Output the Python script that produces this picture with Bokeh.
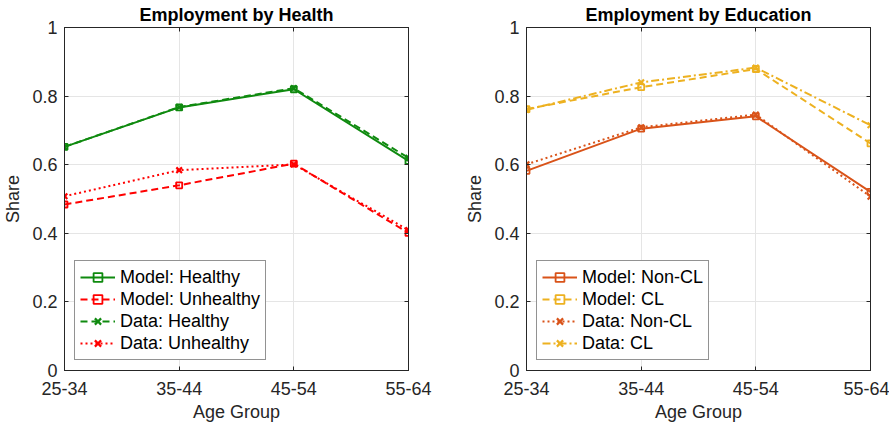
from bokeh.plotting import figure
from bokeh.models import FixedTicker, LinearAxis, Legend, LegendItem
from bokeh.layouts import row
from bokeh.embed import file_html
from bokeh.resources import INLINE

# data
age_groups = ["25-34", "35-44", "45-54", "55-64"]
x_pos = [1, 2, 3, 4]

model_healthy = [0.652, 0.767, 0.820, 0.611]
model_unhealthy = [0.484, 0.540, 0.603, 0.401]
data_healthy = [0.652, 0.768, 0.823, 0.620]
data_unhealthy = [0.508, 0.584, 0.601, 0.409]

model_noncl = [0.582, 0.705, 0.741, 0.521]
model_cl = [0.762, 0.826, 0.879, 0.662]
data_noncl = [0.601, 0.709, 0.746, 0.507]
data_cl = [0.760, 0.840, 0.883, 0.715]

y_ticks = [0, 0.2, 0.4, 0.6, 0.8, 1]
y_labels = ["0", "0.2", "0.4", "0.6", "0.8", "1"]

FONT = "Liberation Sans"
INK = "#262626"
GREEN = "#0f8a0f"
RED = "#ff0000"
ORANGE = "#d95319"
YELLOW = "#edb120"


def make_panel(title, left_border, right_border):
    p = figure(frame_width=344, frame_height=343, x_range=(1, 4), y_range=(0, 1),
               output_backend="svg", toolbar_location=None,
               min_border_left=left_border, min_border_right=right_border,
               min_border_top=0, min_border_bottom=0)
    p.title.text = title
    p.title.align = "center"
    p.title.text_font = FONT
    p.title.text_font_size = "18px"
    p.title.text_font_style = "bold"
    p.title.text_color = "black"
    p.title.standoff = 5
    p.title.offset = 0

    p.xaxis.ticker = FixedTicker(ticks=x_pos)
    p.xaxis.major_label_overrides = {x: lab for x, lab in zip(x_pos, age_groups)}
    p.yaxis.ticker = FixedTicker(ticks=y_ticks)
    p.yaxis.major_label_overrides = {t: lab for t, lab in zip(y_ticks, y_labels)}
    p.xaxis.axis_label = "Age Group"
    p.yaxis.axis_label = "Share"
    for ax in p.xaxis + p.yaxis:
        ax.axis_label_text_font = FONT
        ax.axis_label_text_font_size = "18px"
        ax.axis_label_text_font_style = "normal"
        ax.axis_label_text_color = INK
        ax.major_label_text_font = FONT
        ax.major_label_text_font_size = "18px"
        ax.major_label_text_color = INK
        ax.major_tick_in = 4
        ax.major_tick_out = 0
        ax.minor_tick_line_color = None
        ax.axis_line_color = INK
        ax.major_tick_line_color = INK
    p.xaxis.major_label_standoff = 11
    p.xaxis.axis_label_standoff = 4
    p.yaxis.major_label_standoff = 7
    p.yaxis.axis_label_standoff = 6

    # ticks on top and right like a boxed axes
    for side, ticks in [("above", x_pos), ("right", y_ticks)]:
        ax = LinearAxis(ticker=FixedTicker(ticks=ticks),
                        major_label_overrides={t: "" for t in ticks},
                        major_label_text_font_size="1px", major_label_standoff=0,
                        major_tick_in=4, major_tick_out=0, minor_tick_line_color=None,
                        axis_line_color=INK, major_tick_line_color=INK)
        p.add_layout(ax, side)

    p.grid.grid_line_color = "#e5e5e5"
    p.xgrid.ticker = FixedTicker(ticks=x_pos)
    p.ygrid.ticker = FixedTicker(ticks=y_ticks)
    p.outline_line_color = INK
    p.outline_line_alpha = 1
    return p


def add_series(p, ys, color, dash, marker, label, items, lw=2):
    ln = p.line(x_pos, ys, line_color=color, line_width=lw, line_dash=dash)
    if marker == "square":
        mk = p.scatter(x_pos, ys, marker="square", size=6, line_color=color,
                       line_width=1.8, fill_color=None)
    else:
        mk = p.scatter(x_pos, ys, marker="x", size=8, line_color=color, line_width=2.2)
    items.append(LegendItem(label=label, renderers=[ln, mk]))


def style_legend(p, items):
    leg = Legend(items=items, location=(10, 10), label_text_font=FONT,
                 label_text_font_size="18px", label_text_color="black",
                 glyph_width=35, glyph_height=22,
                 label_height=22, label_standoff=5, spacing=0, padding=5, margin=0,
                 border_line_color=INK, border_line_width=1,
                 background_fill_color="white", background_fill_alpha=1)
    p.add_layout(leg, "center")


# left panel
p1 = make_panel("Employment by Health", 59, 40)
items1 = []
add_series(p1, model_healthy, GREEN, "solid", "square", "Model: Healthy", items1)
add_series(p1, model_unhealthy, RED, "7 4", "square", "Model: Unhealthy", items1)
add_series(p1, data_healthy, GREEN, "7 4", "x", "Data: Healthy", items1)
add_series(p1, data_unhealthy, RED, "2 3", "x", "Data: Unhealthy", items1)
style_legend(p1, items1)

# right panel
p2 = make_panel("Employment by Education", 78, 19)
items2 = []
add_series(p2, model_noncl, ORANGE, "solid", "square", "Model: Non-CL", items2)
add_series(p2, model_cl, YELLOW, "7 4", "square", "Model: CL", items2)
add_series(p2, data_noncl, ORANGE, "2 3", "x", "Data: Non-CL", items2)
add_series(p2, data_cl, YELLOW, "8 3 2 3", "x", "Data: CL", items2)
style_legend(p2, items2)

layout = row(p1, p2)

open("out.html", "w").write(file_html(layout, INLINE))
